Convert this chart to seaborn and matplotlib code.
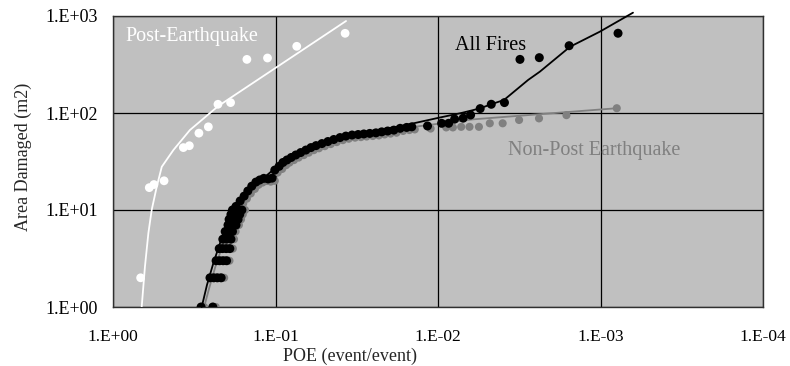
import matplotlib
matplotlib.use("Agg")
import matplotlib.pyplot as plt
from matplotlib.ticker import NullLocator, FixedLocator, FixedFormatter
import seaborn as sns
import pandas as pd

# ---------------- data (POE in event/event, area in m2) ----------------
post_eq_poe = [0.676, 0.598, 0.560, 0.485, 0.369, 0.339, 0.296, 0.259,
               0.226, 0.189, 0.150, 0.112, 0.074, 0.0373]
post_eq_area = [2.0, 17.0, 18.3, 20.0, 44.0, 46.0, 62.0, 72.0,
                123, 128, 357, 369, 487, 663]

post_eq_fit_poe = [0.666, 0.636, 0.606, 0.578, 0.538, 0.501, 0.425, 0.336, 0.225, 0.0368]
post_eq_fit_area = [1.0, 2.6, 5.75, 10, 17.4, 27.9, 41.5, 66.8, 118, 888]

all_poe = [0.287, 0.243,
           0.253, 0.240, 0.228, 0.216,
           0.232, 0.221, 0.210, 0.200,
           0.222, 0.212, 0.201, 0.191,
           0.211, 0.200, 0.188,
           0.204, 0.194, 0.184,
           0.196, 0.186, 0.175,
           0.193, 0.181, 0.170,
           0.188, 0.177, 0.166,
           0.184, 0.172, 0.161,
           0.175, 0.165, 0.156, 0.148, 0.140, 0.132, 0.125, 0.118, 0.111, 0.105,
           0.101, 0.095, 0.090, 0.085, 0.080, 0.075, 0.070, 0.065, 0.0605, 0.0563,
           0.0518, 0.0476, 0.0438, 0.0401, 0.0369, 0.0338, 0.0310, 0.0286, 0.0263, 0.0241,
           0.0222, 0.0204, 0.0187, 0.0171, 0.0156, 0.0145, 0.0116,
           0.0095, 0.0086, 0.0079, 0.0070, 0.0063, 0.0055, 0.0047, 0.0039,
           0.00313, 0.00238, 0.00156, 0.00078]
all_area = [1, 1,
            2, 2, 2, 2,
            3, 3, 3, 3,
            4, 4, 4, 4,
            5, 5, 5,
            6, 6, 6,
            7, 7, 7,
            8, 8, 8,
            9, 9, 9,
            10, 10, 10,
            10.9, 12.4, 13.9, 15.7, 17.6, 19.4, 20.4, 21.2, 20.9, 21.3,
            25.8, 28.2, 30.9, 32.8, 34.8, 36.9, 39.1, 41.5, 44.0, 46.1,
            48.4, 50.8, 53.3, 55.8, 57.8, 59.3, 60.0, 60.8, 61.6, 62.4,
            63.9, 65.2, 66.6, 69.5, 71.0, 72.0, 73.5,
            78.3, 78.3, 86.5, 88.5, 95.4, 111, 123, 128,
            357, 372, 494, 664]

all_fit_poe = [0.2845, 0.264, 0.2414, 0.2096, 0.1775, 0.1435, 0.0984, 0.0588, 0.0334,
               0.0171, 0.00972, 0.00732, 0.00609, 0.00544, 0.00465, 0.00393,
               0.00279, 0.00236, 0.00154, 0.00101, 0.000631]
all_fit_area = [1.0, 1.69, 2.82, 5.75, 10, 16.1, 27.9, 44.6, 60.8,
                73, 89.9, 99.3, 107, 112.6, 124, 136,
                219, 267, 482, 689, 1082]

non_poe = [0.275, 0.233,
           0.242, 0.230, 0.218, 0.207,
           0.222, 0.212, 0.201, 0.192,
           0.213, 0.203, 0.193, 0.183,
           0.202, 0.192, 0.180,
           0.195, 0.186, 0.176,
           0.188, 0.178, 0.168,
           0.185, 0.173, 0.163,
           0.180, 0.170, 0.159,
           0.176, 0.165, 0.154,
           0.168, 0.158, 0.150, 0.142, 0.134, 0.127, 0.120, 0.113, 0.107, 0.101,
           0.097, 0.091, 0.086, 0.082, 0.077, 0.072, 0.067, 0.0624, 0.0581, 0.0540,
           0.0497, 0.0457, 0.0420, 0.0385, 0.0354, 0.0324, 0.0298, 0.0275, 0.0252, 0.0231,
           0.0213, 0.0196, 0.0180, 0.0164, 0.0150, 0.0139, 0.0111,
           0.0089, 0.0081, 0.0072, 0.0064, 0.0056, 0.0048, 0.0040,
           0.00317, 0.00239, 0.00162, 0.000794]
non_area = [1, 1,
            2, 2, 2, 2,
            3, 3, 3, 3,
            4, 4, 4, 4,
            5, 5, 5,
            6, 6, 6,
            7, 7, 7,
            8, 8, 8,
            9, 9, 9,
            10, 10, 10,
            10.2, 11.7, 13.1, 14.8, 16.5, 18.2, 19.2, 19.9, 19.6, 20.0,
            24.3, 26.5, 29.0, 30.8, 32.7, 34.7, 36.8, 39.0, 41.4, 43.3,
            45.5, 47.8, 50.1, 52.5, 54.3, 55.7, 56.4, 57.2, 57.9, 58.7,
            60.1, 61.3, 62.6, 65.3, 66.7, 67.7, 69.1,
            71, 71, 72, 72, 72, 78.3, 78.3,
            84.7, 88, 95, 112]

non_fit_poe = [0.275, 0.255, 0.233, 0.202, 0.171, 0.138, 0.095, 0.057, 0.032,
               0.0171, 0.0061, 0.000794]
non_fit_area = [1.0, 1.6, 2.7, 5.4, 9.3, 15, 26, 41.5, 56.5, 69, 86, 112]

x_ticks = [1, 0.1, 0.01, 0.001, 0.0001]
x_tick_labels = ["1.E+00", "1.E-01", "1.E-02", "1.E-03", "1.E-04"]
y_ticks = [1, 10, 100, 1000]
y_tick_labels = ["1.E+00", "1.E+01", "1.E+02", "1.E+03"]

# ---------------- plot ----------------
sns.set_style("white")
plt.rcParams["font.family"] = ["Liberation Serif", "DejaVu Serif"]

fig = plt.figure(figsize=(7.9, 3.66), dpi=100)
ax = fig.add_axes([113 / 790, 1 - 307 / 366, 650 / 790, 291 / 366])
ax.set_facecolor("#C0C0C0")
ax.set_xscale("log")
ax.set_yscale("log")

GRAY = "#808080"

sns.scatterplot(x=non_poe, y=non_area, color=GRAY, s=34, edgecolor="none",
                linewidth=0, ax=ax, zorder=3)
sns.lineplot(x=non_fit_poe, y=non_fit_area, color=GRAY, lw=1.3, sort=False,
             estimator=None, ax=ax, zorder=4)
sns.scatterplot(x=all_poe, y=all_area, color="black", s=42, edgecolor="none",
                linewidth=0, ax=ax, zorder=5)
sns.lineplot(x=all_fit_poe, y=all_fit_area, color="black", lw=1.3, sort=False,
             estimator=None, ax=ax, zorder=6)
ax.lines[-1].set_clip_on(False)
sns.scatterplot(x=post_eq_poe, y=post_eq_area, color="white", s=40, edgecolor="none",
                linewidth=0, ax=ax, zorder=7)
sns.lineplot(x=post_eq_fit_poe, y=post_eq_fit_area, color="white", lw=1.3, sort=False,
             estimator=None, ax=ax, zorder=8)

ax.set_xlim(1, 1e-4)
ax.set_ylim(1, 1000)

ax.xaxis.set_major_locator(FixedLocator(x_ticks))
ax.xaxis.set_major_formatter(FixedFormatter(x_tick_labels))
ax.yaxis.set_major_locator(FixedLocator(y_ticks))
ax.yaxis.set_major_formatter(FixedFormatter(y_tick_labels))
ax.xaxis.set_minor_locator(NullLocator())
ax.yaxis.set_minor_locator(NullLocator())
ax.tick_params(axis="x", length=0, pad=16, labelsize=12.5, colors="black")
ax.tick_params(axis="y", length=0, pad=11, labelsize=13, colors="black")

ax.grid(True, which="major", color="black", lw=0.9, zorder=1)
ax.set_axisbelow(True)
for side in ["top", "left", "right", "bottom"]:
    ax.spines[side].set_visible(True)
    ax.spines[side].set_color("#303030")
    ax.spines[side].set_linewidth(1.0)
ax.legend_ = None

ax.set_xlabel("POE (event/event)", fontsize=13)
ax.xaxis.set_label_coords((350 - 113) / 650, (307 - 348) / 291)
ax.set_ylabel("Area Damaged (m2)", fontsize=13)
ax.yaxis.set_label_coords((32 - 113) / 650, (307 - 157) / 291)

ax.text((125 - 113) / 650, (307 - 36) / 291, "Post-Earthquake", color="white",
        fontsize=14.5, ha="left", va="center", transform=ax.transAxes, zorder=9)
ax.text((455 - 113) / 650, (307 - 45) / 291, "All Fires", color="black",
        fontsize=14.5, ha="left", va="center", transform=ax.transAxes, zorder=9)
ax.text((508 - 113) / 650, (307 - 151) / 291, "Non-Post Earthquake", color=GRAY,
        fontsize=14.5, ha="left", va="center", transform=ax.transAxes, zorder=9)

fig.savefig("out.png", dpi=100, facecolor="white")
